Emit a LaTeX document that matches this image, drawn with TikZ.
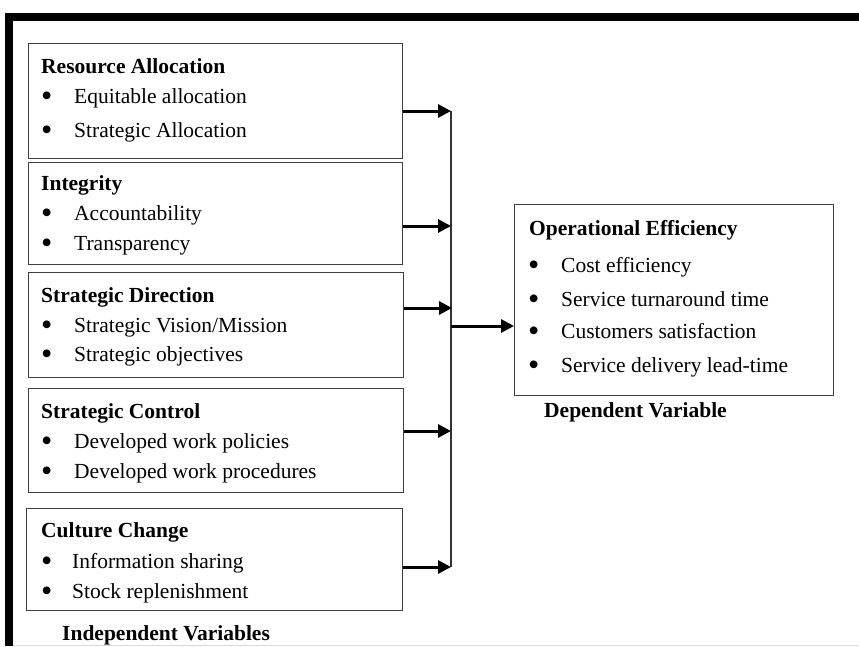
\documentclass[tikz,border=0pt]{standalone}
\usepackage{fontspec}
\usepackage{graphicx}
\setmainfont{Liberation Serif}
\usetikzlibrary{arrows.meta}
\newcommand{\mybul}{\raisebox{-3pt}{\scalebox{1.5}{\textbullet}}}
\begin{document}
\begin{tikzpicture}[x=1pt,y=-1pt,
  box/.style={draw=black!75,line width=1.3pt,rectangle,inner sep=0pt,anchor=north west},
  txt/.style={inner sep=0pt,anchor=base west,font=\fontsize{21.5}{24}\selectfont},
  bul/.style={inner sep=0pt,anchor=base west,font=\fontsize{21.5}{24}\selectfont},
  hd/.style={txt,font=\fontsize{21.5}{24}\selectfont\bfseries},
  arr/.style={line width=3pt,-{Triangle[length=13pt,width=13pt]}},
  bus/.style={line width=1.3pt,draw=black!80}]
\useasboundingbox (0,0) rectangle (859,646);
% frame
\fill[black] (5,13) rectangle (859,21);
\fill[black] (5,13) rectangle (13,646);
\draw[black!15,line width=1pt] (13,645.5) -- (859,645.5);
% boxes
\node[box,minimum width=374pt,minimum height=115pt] (b1) at (28,43) {};
\node[box,minimum width=374pt,minimum height=102pt] (b2) at (28,162) {};
\node[box,minimum width=375pt,minimum height=105pt] (b3) at (28,272) {};
\node[box,minimum width=375pt,minimum height=104pt] (b4) at (28,388) {};
\node[box,minimum width=376pt,minimum height=102pt] (b5) at (26,508) {};
\node[box,minimum width=319pt,minimum height=191pt] (oe) at (514,204) {};
% box 1
\node[hd] (t1) at (41,73) {Resource Allocation};
\node[bul] (t1a) at (41,103) {\mybul};
\node[txt] (t1b) at (74,103) {Equitable allocation};
\node[bul] (t1c) at (41,137) {\mybul};
\node[txt] (t1d) at (74,137) {Strategic Allocation};
% box 2
\node[hd] (t2) at (41,190) {Integrity};
\node[bul] (t2a) at (41,220) {\mybul};
\node[txt] (t2b) at (74,220) {Accountability};
\node[bul] (t2c) at (41,250) {\mybul};
\node[txt] (t2d) at (74,250) {Transparency};
% box 3
\node[hd] (t3) at (41,302) {Strategic Direction};
\node[bul] (t3a) at (41,332) {\mybul};
\node[txt] (t3b) at (74,332) {Strategic Vision/Mission};
\node[bul] (t3c) at (41,361) {\mybul};
\node[txt] (t3d) at (74,361) {Strategic objectives};
% box 4
\node[hd] (t4) at (41,418) {Strategic Control};
\node[bul] (t4a) at (41,448) {\mybul};
\node[txt] (t4b) at (74,448) {Developed work policies};
\node[bul] (t4c) at (41,478) {\mybul};
\node[txt] (t4d) at (74,478) {Developed work procedures};
% box 5
\node[hd] (t5) at (41,537) {Culture Change};
\node[bul] (t5a) at (41,568) {\mybul};
\node[txt] (t5b) at (72,568) {Information sharing};
\node[bul] (t5c) at (41,598) {\mybul};
\node[txt] (t5d) at (72,598) {Stock replenishment};
% OE box
\node[hd] (t6) at (529,235) {Operational Efficiency};
\node[bul] (t6a) at (528,272) {\mybul};
\node[txt] (t6b) at (561,272) {Cost efficiency};
\node[bul] (t6c) at (528,306) {\mybul};
\node[txt] (t6d) at (561,306) {Service turnaround time};
\node[bul] (t6e) at (528,338) {\mybul};
\node[txt] (t6f) at (561,338) {Customers satisfaction};
\node[bul] (t6g) at (528,372) {\mybul};
\node[txt] (t6h) at (561,372) {Service delivery lead-time};
% captions
\node[hd] (cap1) at (62,640) {Independent Variables};
\node[hd] (cap2) at (544,417) {Dependent Variable};
% connectors
\coordinate (j1) at (451,111);
\coordinate (j2) at (451,226);
\coordinate (j3) at (452,308);
\coordinate (j4) at (451,431);
\coordinate (j5) at (451,567);
\coordinate (jm) at (451,326);
\draw[bus] (j1) -- (j5);
\draw[arr] (b1.east |- j1) -- (j1);
\draw[arr] (b2.east |- j2) -- (j2);
\draw[arr] (b3.east |- j3) -- (j3);
\draw[arr] (b4.east |- j4) -- (j4);
\draw[arr] (b5.east |- j5) -- (j5);
\draw[arr] (jm) -- (oe.west |- jm);
\end{tikzpicture}
\end{document}
